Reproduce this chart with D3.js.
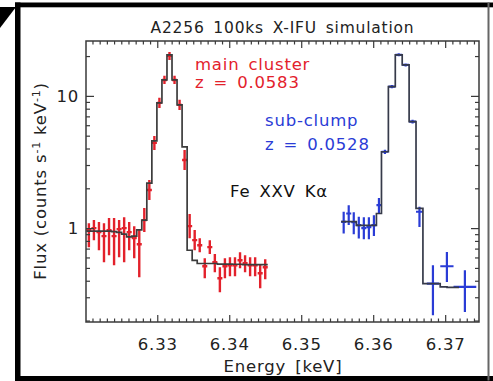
<!DOCTYPE html>
<html><head><meta charset="utf-8">
<script src="https://cdn.jsdelivr.net/npm/d3@7"></script>
<style>
html,body{margin:0;padding:0;background:#fff;}
svg{display:block;}
text{font-family:"DejaVu Sans",sans-serif;}
</style>
</head><body>
<svg id="c" width="493" height="381"></svg>
<script>
// ---------------- data ----------------
const xTicks = [6.33, 6.34, 6.35, 6.36, 6.37];
const xTickLabels = ["6.33", "6.34", "6.35", "6.36", "6.37"];
const yTicks = [1, 10];
const yTickLabels = ["1", "10"];

// main cluster (red): bin centres [keV], bin half width, flux, error bounds, model
const redE = [6.3205, 6.3212, 6.3219, 6.3226, 6.3233, 6.3240, 6.3247, 6.3254, 6.3261, 6.3268,
              6.3275, 6.3282, 6.3289, 6.3296, 6.3303, 6.3310, 6.3317, 6.3324, 6.3331, 6.3338,
              6.3345, 6.3352, 6.3359, 6.3366, 6.3373, 6.3380, 6.3387, 6.3394, 6.3401, 6.3408,
              6.3415, 6.3422, 6.3429, 6.3436, 6.3443, 6.3450];
const redHalfWidth = 0.00035;
const redFlux = [0.966, 1.00, 0.933, 0.870, 0.966, 0.870, 0.983, 1.00, 0.933, 0.840,
                 0.756, 1.15, 1.94, 4.41, 8.85, 13.2, 20.1, 13.2, 8.55, 3.27,
                 1.035, 0.811, 0.743, 0.515, 0.718, 0.553, 0.418, 0.515, 0.524, 0.524,
                 0.572, 0.543, 0.524, 0.524, 0.456, 0.506];
const redHi = [1.09, 1.15, 1.11, 1.09, 1.19, 1.19, 1.15, 1.21, 1.11, 1.035,
               0.966, 1.42, 2.31, 4.98, 9.66, 14.2, 21.5, 14.2, 9.33, 3.90,
               1.28, 0.966, 0.84, 0.593, 0.81, 0.636, 0.506, 0.593, 0.603, 0.603,
               0.658, 0.624, 0.603, 0.603, 0.533, 0.582];
const redLo = [0.718, 0.811, 0.681, 0.553, 0.624, 0.524, 0.603, 0.553, 0.681, 0.593,
               0.425, 0.933, 1.63, 3.90, 8.11, 12.3, 18.7, 12.3, 7.83, 2.75,
               0.84, 0.681, 0.658, 0.418, 0.636, 0.464, 0.327, 0.418, 0.433, 0.433,
               0.498, 0.464, 0.433, 0.433, 0.351, 0.411];
const redModel = [0.95, 0.95, 0.95, 0.95, 0.95, 0.94, 0.93, 0.90, 0.86, 0.87,
                  0.97, 1.15, 2.19, 4.56, 8.85, 13.2, 20.4, 13.2, 8.55, 4.11,
                  0.68, 0.57, 0.54, 0.54, 0.54, 0.54, 0.535, 0.535, 0.535, 0.533,
                  0.533, 0.53, 0.53, 0.53, 0.53, 0.53];

// sub-clump (blue): variable binning
const blueE = [6.3559, 6.3566, 6.3573, 6.3580, 6.3587, 6.3594, 6.3601, 6.3608,
               6.36163, 6.36259, 6.36355, 6.36451, 6.36547, 6.36643,
               6.3683, 6.37024, 6.37274];
const blueHalfWidth = [0.00035, 0.00035, 0.00035, 0.00035, 0.00035, 0.00035, 0.00035, 0.00035,
                       0.00048, 0.00048, 0.00048, 0.00048, 0.00048, 0.00048,
                       0.00085, 0.00092, 0.00158];
const blueFlux = [1.116, 1.29, 1.11, 1.054, 1.0, 1.017, 1.054, 1.49,
                  3.78, 11.76, 20.44, 17.17, 6.39, 1.33,
                  0.381, 0.515, 0.359];
const blueHi = [1.33, 1.49, 1.32, 1.218, 1.21, 1.21, 1.25, 1.69,
                3.92, 12.1, 21.0, 17.6, 6.6, 1.45,
                0.524, 0.661, 0.481];
const blueLo = [0.912, 1.054, 0.90, 0.835, 0.825, 0.825, 0.87, 1.30,
                3.64, 11.4, 19.9, 16.7, 6.18, 1.02,
                0.219, 0.392, 0.232];
const blueModelEdges = [6.35555, 6.35625, 6.35695, 6.35765, 6.35835, 6.35905, 6.35975, 6.36045,
                        6.36115, 6.36211, 6.36307, 6.36403, 6.36499, 6.36595, 6.36691,
                        6.36931, 6.37026, 6.37192];
const blueModel = [1.12, 1.12, 1.12, 1.05, 1.05, 1.05, 1.05, 1.29,
                   3.78, 11.76, 20.44, 17.17, 6.39, 1.41,
                   0.381, 0.359, 0.356];

// ---------------- drawing ----------------
const M = {l: 86, r: 479, t: 41, b: 322};
const x = d3.scaleLinear().domain([6.3201, 6.3747]).range([M.l, M.r]);
const y = d3.scaleLog().domain([0.195, 26]).range([M.b, M.t]);
const svg = d3.select("#c");
const RED = "#e3212b", BLUE = "#2a3cd6", AX = "#3a3a3a", TXT = "#222";

// outer frame decoration
svg.append("rect").attr("x", 15).attr("y", 2.5).attr("width", 478).attr("height", 4.8).attr("fill", "#000");
svg.append("rect").attr("x", 15).attr("y", 2.5).attr("width", 5.5).attr("height", 378.5).attr("fill", "#000");
svg.append("rect").attr("x", 15).attr("y", 376).attr("width", 478).attr("height", 5).attr("fill", "#000");
svg.append("path").attr("d", "M0,7L16,7L0,28Z").attr("fill", "#000");
svg.append("rect").attr("x", 487.5).attr("y", 2.5).attr("width", 2).attr("height", 378).attr("fill", "#666");

svg.append("defs").append("clipPath").attr("id", "clip")
  .append("rect").attr("x", M.l).attr("y", M.t).attr("width", M.r - M.l).attr("height", M.b - M.t);
const plot = svg.append("g").attr("clip-path", "url(#clip)");

function errPath(E, dE, F, lo, hi) {
  return "M" + x(E - dE) + "," + y(F) + "H" + x(E + dE) +
         "M" + x(E) + "," + y(hi) + "V" + y(lo);
}
// red data
plot.append("g").selectAll("path").data(redE).join("path")
  .attr("d", (E, i) => errPath(E, redHalfWidth, redFlux[i], redLo[i], redHi[i]))
  .attr("stroke", RED).attr("stroke-width", 2.4).attr("fill", "none");
// blue data
plot.append("g").selectAll("path").data(blueE).join("path")
  .attr("d", (E, i) => errPath(E, blueHalfWidth[i], blueFlux[i], blueLo[i], blueHi[i]))
  .attr("stroke", BLUE).attr("stroke-width", 2.2).attr("fill", "none");

// models (step histograms)
const line = d3.line().x(d => x(d[0])).y(d => y(d[1]));
const redPts = [];
redE.forEach((E, i) => { redPts.push([E - redHalfWidth, redModel[i]], [E + redHalfWidth, redModel[i]]); });
plot.append("path").attr("d", line(redPts)).attr("fill", "none")
  .attr("stroke", "#3c3c3c").attr("stroke-width", 1.7);
const bluePts = [];
blueModel.forEach((v, i) => { bluePts.push([blueModelEdges[i], v], [blueModelEdges[i + 1], v]); });
plot.append("path").attr("d", line(bluePts)).attr("fill", "none")
  .attr("stroke", "#363a4a").attr("stroke-width", 1.7);

// axes
const xMinor = d3.range(6.321, 6.3746, 0.001).filter(v => Math.abs(Math.round(v * 100) - v * 100) > 1e-6);
const yMinor = [0.2, 0.3, 0.4, 0.5, 0.6, 0.7, 0.8, 0.9, 2, 3, 4, 5, 6, 7, 8, 9, 20];
function style(g) {
  g.select(".domain").remove();
  g.selectAll(".tick line").attr("stroke", AX).attr("stroke-width", 1.2);
  g.selectAll(".tick text").attr("fill", TXT).style("font-size", "16.5px")
   .style("letter-spacing", "0.8px").style("font-family", "DejaVu Sans");
  return g;
}
const bottom = svg.append("g").attr("transform", `translate(0,${M.b})`)
  .call(d3.axisBottom(x).tickValues(xTicks).tickFormat((d, i) => xTickLabels[i]).tickSizeInner(-7).tickSizeOuter(0));
style(bottom).selectAll(".tick text").attr("y", 27.5).attr("dy", "0");
style(svg.append("g").attr("transform", `translate(0,${M.b})`)
  .call(d3.axisBottom(x).tickValues(xMinor).tickFormat("").tickSizeInner(-3.5).tickSizeOuter(0)));
style(svg.append("g").attr("transform", `translate(0,${M.t})`)
  .call(d3.axisTop(x).tickValues(xTicks).tickFormat("").tickSizeInner(-7).tickSizeOuter(0)));
style(svg.append("g").attr("transform", `translate(0,${M.t})`)
  .call(d3.axisTop(x).tickValues(xMinor).tickFormat("").tickSizeInner(-3.5).tickSizeOuter(0)));
style(svg.append("g").attr("transform", `translate(${M.l},0)`)
  .call(d3.axisLeft(y).tickValues(yTicks).tickFormat((d, i) => yTickLabels[i]).tickSizeInner(-8).tickSizeOuter(0).tickPadding(7)));
style(svg.append("g").attr("transform", `translate(${M.l},0)`)
  .call(d3.axisLeft(y).tickValues(yMinor).tickFormat("").tickSizeInner(-4).tickSizeOuter(0)));
style(svg.append("g").attr("transform", `translate(${M.r},0)`)
  .call(d3.axisRight(y).tickValues(yTicks).tickFormat("").tickSizeInner(-8).tickSizeOuter(0)));
style(svg.append("g").attr("transform", `translate(${M.r},0)`)
  .call(d3.axisRight(y).tickValues(yMinor).tickFormat("").tickSizeInner(-4).tickSizeOuter(0)));

svg.append("rect").attr("x", M.l).attr("y", M.t).attr("width", M.r - M.l).attr("height", M.b - M.t)
  .attr("fill", "none").attr("stroke", AX).attr("stroke-width", 1.5);

// texts
function txt(s, tx, ty, color, size, anchor) {
  return svg.append("text").attr("x", tx).attr("y", ty).attr("fill", color)
    .attr("text-anchor", anchor || "start").style("font-size", size + "px")
    .style("letter-spacing", "0.8px").style("word-spacing", "3px").text(s);
}
txt("A2256 100ks X-IFU simulation", 282.5, 33, TXT, 15.5, "middle");
txt("main cluster", 195, 70, RED, 16.5);
txt("z = 0.0583", 195, 88, RED, 16.5);
txt("sub-clump", 265, 126, BLUE, 16.5);
txt("z = 0.0528", 265, 150, BLUE, 16.5);
txt("Fe XXV K\u03B1", 230, 197, "#111", 16.5);
txt("Energy [keV]", 283, 371.5, TXT, 16.5, "middle");

const yl = svg.append("text").attr("transform", "translate(46,181) rotate(-90)")
  .attr("text-anchor", "middle").attr("fill", TXT).style("font-size", "16.5px").style("letter-spacing", "0.8px");
yl.append("tspan").text("Flux (counts s");
yl.append("tspan").attr("dy", -6).style("font-size", "11px").text("-1");
yl.append("tspan").attr("dy", 6).text(" keV");
yl.append("tspan").attr("dy", -6).style("font-size", "11px").text("-1");
yl.append("tspan").attr("dy", 6).text(")");
</script>
</body></html>
